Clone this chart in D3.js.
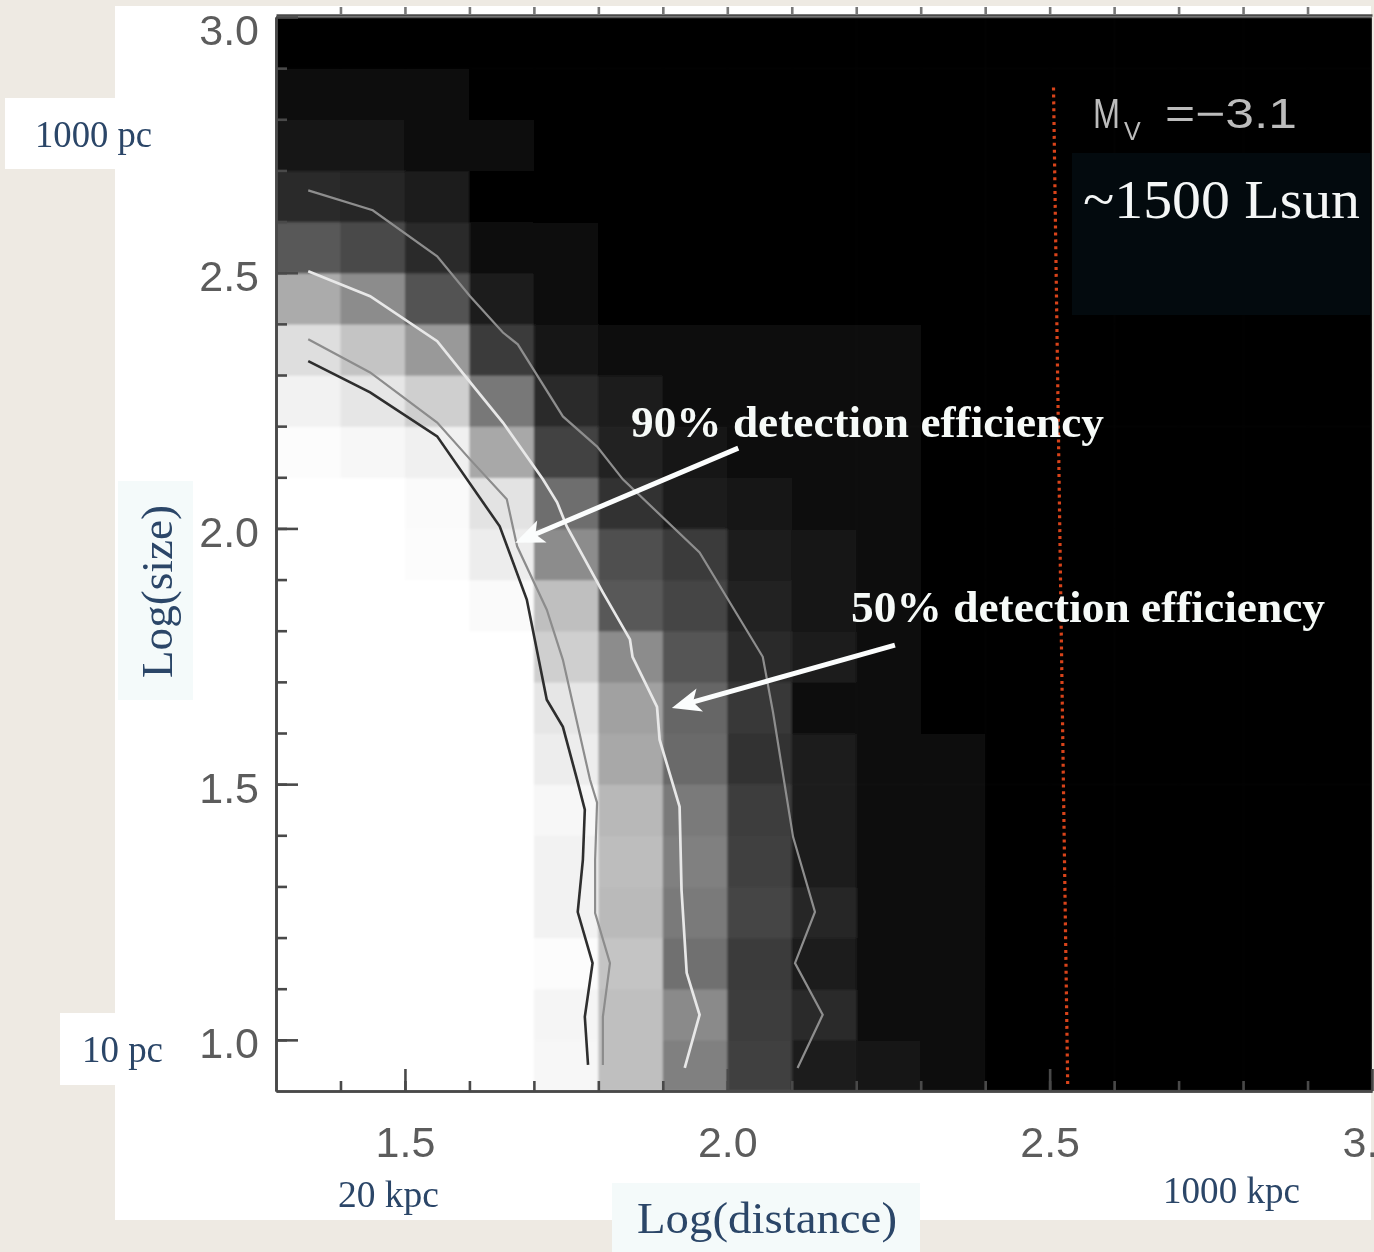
<!DOCTYPE html>
<html>
<head>
<meta charset="utf-8">
<script src="https://cdn.jsdelivr.net/npm/d3@7"></script>
<style>
  html, body { margin: 0; padding: 0; background: #eeeae3; }
  svg { display: block; }
</style>
</head>
<body>
<svg id="chart" width="1374" height="1252"></svg>
<script>
// ---- Data -------------------------------------------------------------
// Lower edges of the log(distance / kpc) bins (columns, width 0.1)
const logDistanceBins = [1.3, 1.4, 1.5, 1.6, 1.7, 1.8, 1.9, 2.0, 2.1, 2.2, 2.3, 2.4, 2.5, 2.6, 2.7, 2.8, 2.9];
// Lower edges of the log(size / pc) bins (rows, height 0.1)
const logSizeBins = [0.9, 1.0, 1.1, 1.2, 1.3, 1.4, 1.5, 1.6, 1.7, 1.8, 1.9, 2.0, 2.1, 2.2, 2.3, 2.4, 2.5, 2.6, 2.7, 2.8, 2.9];
const binWidth = 0.1;

// Recovered fraction (%) per cell; one row per logSizeBins entry, one column per logDistanceBins entry
const detectionPercent = [
  [100,100,100,100, 97, 75, 50, 25, 12,  7,  5,  1, 0, 0, 0, 0, 0], // 0.9
  [100,100,100,100, 96, 75, 54, 24, 16,  5,  4,  1, 0, 0, 0, 0, 0], // 1.0
  [100,100,100,100, 99, 77, 44, 23, 11,  4,  3,  1, 0, 0, 0, 0, 0], // 1.1
  [100,100,100,100, 95, 73, 48, 27, 15,  5,  3,  1, 0, 0, 0, 0, 0], // 1.2
  [100,100,100,100, 95, 74, 50, 25, 11,  5,  3,  1, 0, 0, 0, 0, 0], // 1.3
  [100,100,100,100, 97, 72, 48, 24, 11,  5,  3,  1, 0, 0, 0, 0, 0], // 1.4
  [100,100,100,100, 93, 66, 42, 20, 10,  5,  3,  1, 0, 0, 0, 0, 0], // 1.5
  [100,100,100,100, 90, 63, 40, 22,  4,  5,  2,  1, 0, 0, 0, 0, 0], // 1.6
  [100,100,100,100, 81, 55, 33, 17, 11,  4,  2,  1, 0, 0, 0, 0, 0], // 1.7
  [100,100,100, 98, 75, 35, 27, 13,  8,  4,  2,  1, 0, 0, 0, 0, 0], // 1.8
  [100,100, 99, 93, 55, 31, 23, 10,  7,  5,  2,  1, 0, 0, 0, 0, 0], // 1.9
  [100,100, 98, 89, 43, 20, 12,  8,  5,  5,  2,  1, 0, 0, 0, 0, 0], // 2.0
  [ 99, 97, 94, 66, 26, 13,  8,  6,  5,  6,  2,  1, 0, 0, 0, 0, 0], // 2.1
  [ 95, 90, 81, 47, 17, 10,  6,  4,  4,  5,  1,  1, 0, 0, 0, 0, 0], // 2.2
  [ 87, 77, 60, 23,  9,  4,  3,  3,  3,  4,  1,  0, 0, 0, 0, 0, 0], // 2.3
  [ 67, 55, 32, 11,  4,  2,  2,  2,  2,  2,  1,  0, 0, 0, 0, 0, 0], // 2.4
  [ 35, 29, 16,  4,  3,  2,  1,  1,  1,  1,  0,  0, 0, 0, 0, 0, 0], // 2.5
  [ 17, 15, 11,  2,  1,  1,  1,  1,  1,  1,  0,  0, 0, 0, 0, 0, 0], // 2.6
  [  7,  7,  5,  3,  2,  1,  1,  1,  2,  1,  0,  0, 0, 0, 0, 0, 0], // 2.7
  [  5,  5,  4,  1,  1,  1,  1,  1,  1,  1,  2,  0, 0, 0, 0, 0, 0], // 2.8
  [  2,  2,  1,  2,  1,  0,  0,  0,  0,  0,  0,  0, 0, 0, 0, 0, 0]  // 2.9
];

// Efficiency contours as [log distance, log size] vertices
const contourInnerDark = [[1.35,2.327],[1.446,2.266],[1.55,2.18],[1.647,2.004],[1.689,1.861],[1.72,1.665],[1.745,1.612],[1.767,1.509],[1.779,1.45],[1.776,1.352],[1.768,1.25],[1.791,1.15],[1.779,1.045],[1.784,0.951]];
const contourInnerGrey = [[1.35,2.37],[1.446,2.305],[1.55,2.207],[1.601,2.135],[1.658,2.057],[1.674,1.965],[1.72,1.841],[1.745,1.743],[1.787,1.509],[1.798,1.464],[1.795,1.352],[1.795,1.248],[1.818,1.15],[1.807,1.045],[1.807,0.951]];
const contourWhite = [[1.35,2.503],[1.446,2.454],[1.55,2.366],[1.601,2.286],[1.652,2.207],[1.714,2.096],[1.736,2.051],[1.751,2.004],[1.807,1.875],[1.849,1.783],[1.853,1.749],[1.891,1.651],[1.895,1.587],[1.926,1.456],[1.929,1.293],[1.937,1.131],[1.957,1.049],[1.934,0.945]];
const contourOuter = [[1.35,2.661],[1.45,2.622],[1.55,2.532],[1.601,2.454],[1.652,2.383],[1.675,2.36],[1.745,2.219],[1.798,2.16],[1.838,2.096],[1.957,1.953],[2.055,1.749],[2.071,1.64],[2.102,1.397],[2.136,1.25],[2.105,1.15],[2.148,1.049],[2.109,0.945]];

// Distance limit marker (dotted red line)
const distanceLimit = [[2.506, 2.862], [2.528, 0.912]];

// Axis ticks
const xMajorTicks = [1.5, 2.0, 2.5, 3.0];
const xTickLabels = ["1.5", "2.0", "2.5", "3.0"];
const yMajorTicks = [1.0, 1.5, 2.0, 2.5, 3.0];
const yTickLabels = ["1.0", "1.5", "2.0", "2.5", "3.0"];

// Annotation arrows (tail -> tip, data units)
const arrow90 = { from: [2.017, 2.157], to: [1.671, 1.972] };
const arrow50 = { from: [2.260, 1.772], to: [1.914, 1.649] };

// ---- Drawing -----------------------------------------------------------
const W = 1374, H = 1252;
const svg = d3.select("#chart");
const defs = svg.append("defs");

defs.append("filter").attr("id", "soft").attr("x", "-5%").attr("y", "-5%").attr("width", "110%").attr("height", "110%")
  .append("feGaussianBlur").attr("stdDeviation", 1.0);
defs.append("filter").attr("id", "softText").attr("x", "-10%").attr("y", "-10%").attr("width", "120%").attr("height", "120%")
  .append("feGaussianBlur").attr("stdDeviation", 0.6);

const x = d3.scaleLinear().domain([1.3, 3.0]).range([276, 1372]);
const y = d3.scaleLinear().domain([0.9, 3.0]).range([1091, 17]);
const grey = d3.scaleLinear().domain([0, 100]).range(["#000000", "#ffffff"]);

defs.append("clipPath").attr("id", "plotClip").append("rect")
  .attr("x", x(1.3)).attr("y", y(3.0)).attr("width", x(3.0) - x(1.3)).attr("height", y(0.9) - y(3.0));

// Slide background and white panel
svg.append("rect").attr("width", W).attr("height", H).attr("fill", "#eeeae3");
svg.append("rect").attr("x", 115).attr("y", 6).attr("width", 1256).attr("height", 1214).attr("fill", "#ffffff");

// Heat map
const cells = [];
logSizeBins.forEach((s, i) => logDistanceBins.forEach((d, j) => cells.push({ d, s, v: detectionPercent[i][j] })));

const plot = svg.append("g");
plot.append("g").attr("clip-path", "url(#plotClip)")
  .append("g").attr("filter", "url(#soft)")
  .selectAll("rect").data(cells).join("rect")
  .attr("x", c => x(c.d))
  .attr("y", c => y(c.s + binWidth))
  .attr("width", c => x(c.d + binWidth) - x(c.d) + 0.7)
  .attr("height", c => y(c.s) - y(c.s + binWidth) + 0.7)
  .attr("fill", c => grey(c.v));

// Contours
const line = d3.line().x(p => x(p[0])).y(p => y(p[1]));
const contours = plot.append("g").attr("clip-path", "url(#plotClip)").append("g").attr("filter", "url(#softText)").attr("fill", "none");
contours.append("path").datum(contourOuter).attr("d", line).attr("stroke", "#8e8e8e").attr("stroke-width", 2.2);
contours.append("path").datum(contourWhite).attr("d", line).attr("stroke", "#e8e8e8").attr("stroke-width", 2.7);
contours.append("path").datum(contourInnerGrey).attr("d", line).attr("stroke", "#8c8c8c").attr("stroke-width", 2.2);
contours.append("path").datum(contourInnerDark).attr("d", line).attr("stroke", "#2e2e2e").attr("stroke-width", 2.6);

// Axes
const axisColor = "#4a4a4a";
function styleAxis(g) {
  g.select(".domain").attr("stroke", axisColor).attr("stroke-width", 2.6);
  g.selectAll(".tick line").attr("stroke", axisColor).attr("stroke-width", 2.6);
  g.selectAll(".tick text").attr("fill", "#5c5c5c").attr("font-family", "'Liberation Sans', Arial, sans-serif").attr("font-size", 43);
}
const axes = svg.append("g").attr("filter", "url(#softText)");

axes.append("g").attr("transform", `translate(${x(1.3)},0)`)
  .call(d3.axisLeft(y).tickValues(logSizeBins.slice(1)).tickSize(-11).tickSizeOuter(0).tickFormat(""))
  .call(styleAxis);
axes.append("g").attr("transform", `translate(${x(1.3)},0)`)
  .call(d3.axisLeft(y).tickValues(yMajorTicks).tickSize(-22).tickSizeOuter(0).tickPadding(17)
    .tickFormat((d, i) => yTickLabels[i]))
  .call(styleAxis)
  .call(g => g.selectAll(".tick text").attr("dy", d => d === 3.0 ? "0.64em" : "0.42em"));

axes.append("g").attr("transform", `translate(0,${y(0.9)})`)
  .call(d3.axisBottom(x).tickValues(logDistanceBins.slice(1)).tickSize(-10).tickSizeOuter(0).tickFormat(""))
  .call(styleAxis);
axes.append("g").attr("transform", `translate(0,${y(0.9)})`)
  .call(d3.axisBottom(x).tickValues(xMajorTicks).tickSize(-22).tickSizeOuter(0).tickPadding(35)
    .tickFormat((d, i) => xTickLabels[i]))
  .call(styleAxis);

axes.append("g").attr("transform", `translate(0,${y(3.0) - 2})`)
  .call(d3.axisTop(x).tickValues(logDistanceBins.slice(1)).tickSize(8).tickSizeOuter(0).tickFormat(""))
  .call(styleAxis)
  .call(g => g.selectAll(".tick line").attr("stroke", "#777"));

// Dotted distance limit
svg.append("path").datum(distanceLimit).attr("d", line)
  .attr("fill", "none").attr("stroke", "#d8431a").attr("stroke-width", 3.2).attr("stroke-dasharray", "3 3.9");

// Absolute magnitude label: M with subscript V, then the value
const mv = svg.append("text").attr("filter", "url(#softText)").attr("fill", "#bcbcbc")
  .attr("font-family", "'Liberation Sans', Arial, sans-serif").attr("font-size", 42)
  .attr("x", 1093).attr("y", 128);
mv.append("tspan").attr("textLength", 27).attr("lengthAdjust", "spacingAndGlyphs").text("M");
mv.append("tspan").attr("x", 1124).attr("dy", 12).attr("font-size", 25).text("V");
mv.append("tspan").attr("x", 1165).attr("dy", -12)
  .attr("textLength", 132).attr("lengthAdjust", "spacingAndGlyphs").text("=−3.1");

// ---- Slide annotations ------------------------------------------------
const serif = "'Liberation Serif', 'Times New Roman', serif";
const navy = "#2b4668";

// Luminosity box
svg.append("rect").attr("x", 1072).attr("y", 153).attr("width", 298).attr("height", 162).attr("fill", "#030a0e");
svg.append("text").attr("x", 1083).attr("y", 218).attr("font-family", serif).attr("font-size", 54)
  .attr("fill", "#f4f6f6").attr("textLength", 277).attr("lengthAdjust", "spacingAndGlyphs").text("~1500 Lsun");

// Efficiency labels and arrows
svg.append("text").attr("x", 631).attr("y", 437).attr("font-family", serif).attr("font-weight", "bold")
  .attr("font-size", 44).attr("fill", "#f6faf8").attr("textLength", 473).attr("lengthAdjust", "spacingAndGlyphs")
  .text("90% detection efficiency");
svg.append("text").attr("x", 851).attr("y", 622).attr("font-family", serif).attr("font-weight", "bold")
  .attr("font-size", 44).attr("fill", "#f6faf8").attr("textLength", 474).attr("lengthAdjust", "spacingAndGlyphs")
  .text("50% detection efficiency");

function drawArrow(a) {
  const x0 = x(a.from[0]), y0 = y(a.from[1]);
  const x1 = x(a.to[0]), y1 = y(a.to[1]);
  const ang = Math.atan2(y1 - y0, x1 - x0);
  const back = 16;
  svg.append("line")
    .attr("x1", x0).attr("y1", y0)
    .attr("x2", x1 - back * Math.cos(ang)).attr("y2", y1 - back * Math.sin(ang))
    .attr("stroke", "#fbfdfd").attr("stroke-width", 5);
  svg.append("path")
    .attr("d", "M0,0L-29,-12L-22,0L-29,12Z")
    .attr("transform", `translate(${x1},${y1}) rotate(${ang * 180 / Math.PI})`)
    .attr("fill", "#fbfdfd");
}
drawArrow(arrow90);
drawArrow(arrow50);

// Physical scale labels
svg.append("rect").attr("x", 5).attr("y", 98).attr("width", 115).attr("height", 71).attr("fill", "#ffffff");
svg.append("rect").attr("x", 60).attr("y", 1013).attr("width", 60).attr("height", 72).attr("fill", "#ffffff");

function navyText(t, x0, y0, len) {
  svg.append("text").attr("x", x0).attr("y", y0).attr("font-family", serif).attr("font-size", 37)
    .attr("fill", navy).attr("textLength", len).attr("lengthAdjust", "spacingAndGlyphs").text(t);
}
navyText("1000 pc", 35, 147, 117);
navyText("10 pc", 82, 1062, 81);
navyText("20 kpc", 338, 1207, 101);
navyText("1000 kpc", 1163, 1203, 137);

// Axis titles
svg.append("rect").attr("x", 612).attr("y", 1183).attr("width", 308).attr("height", 69).attr("fill", "#f4fafa");
svg.append("text").attr("x", 637).attr("y", 1233).attr("font-family", serif).attr("font-size", 45)
  .attr("fill", navy).attr("textLength", 260).attr("lengthAdjust", "spacingAndGlyphs").text("Log(distance)");

svg.append("rect").attr("x", 118).attr("y", 481).attr("width", 75).attr("height", 219).attr("fill", "#f4fafa");
svg.append("text").attr("transform", "translate(172,678) rotate(-90)").attr("font-family", serif).attr("font-size", 45)
  .attr("fill", navy).attr("textLength", 173).attr("lengthAdjust", "spacingAndGlyphs").text("Log(size)");
</script>
</body>
</html>
